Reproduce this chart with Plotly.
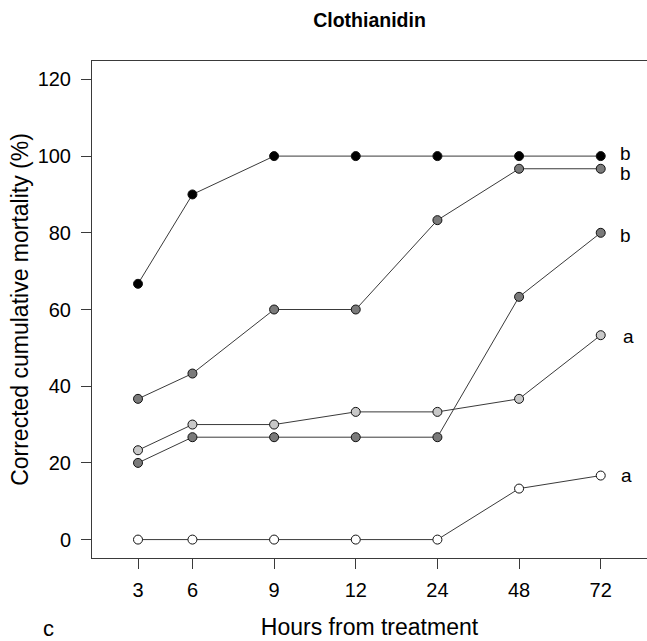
import numpy as np
import plotly.graph_objects as go

# Sampling times (hours after treatment) shown as tick labels
hours = ["3", "6", "9", "12", "24", "48", "72"]

# Corrected cumulative mortality (%) per treatment group
mort_black = [66.7, 90.0, 100.0, 100.0, 100.0, 100.0, 100.0]
mort_dark1 = [36.7, 43.3, 60.0, 60.0, 83.3, 96.7, 96.7]
mort_dark2 = [20.0, 26.7, 26.7, 26.7, 26.7, 63.3, 80.0]
mort_light = [23.3, 30.0, 30.0, 33.3, 33.3, 36.7, 53.3]
mort_white = [0.0, 0.0, 0.0, 0.0, 0.0, 13.3, 16.7]

# Significance letters at 72 h
letters = ["b", "b", "b", "a", "a"]

# Horizontal slots: first step is shorter than the rest
gaps = [0, 2, 3, 3, 3, 3, 3]
xslot = np.cumsum(gaps).tolist()

series = [mort_black, mort_dark1, mort_dark2, mort_light, mort_white]
fills = ["#000000", "#7a7a7a", "#7a7a7a", "#c8c8c8", "#ffffff"]
# per-letter nudges (x px, y px)
nudges = [(0, 3), (0, -5), (0, -3), (3, -1), (1, 0)]

FONT = "Liberation Sans, Arial, sans-serif"
LINE = "#3a3a3a"

W, H = 647, 641
ML, MR, MT, MB = 92, 0, 61, 83

fig = go.Figure()
for ys, fc in zip(series, fills):
    fig.add_trace(go.Scatter(
        x=xslot, y=ys, mode="lines+markers",
        line=dict(color=LINE, width=1),
        marker=dict(size=9, color=fc, line=dict(color="#111111", width=1)),
        showlegend=False, hoverinfo="skip",
    ))

for ys, lt, (dx, dy) in zip(series, letters, nudges):
    fig.add_annotation(
        x=xslot[-1], y=ys[-1], xref="x", yref="y", text=lt,
        showarrow=False, xshift=25 + dx, yshift=dy,
        font=dict(family=FONT, size=19, color="#000000"),
    )

# panel letter, placed in pixel terms
fig.add_annotation(
    x=(48 - ML) / (W - ML - MR), y=(H - MB - 628) / (H - MT - MB),
    xref="paper", yref="paper", text="c", showarrow=False,
    xanchor="center", yanchor="middle",
    font=dict(family=FONT, size=22, color="#000000"),
)

fig.update_layout(
    width=W, height=H,
    margin=dict(l=ML, r=MR, t=MT, b=MB),
    paper_bgcolor="white", plot_bgcolor="white",
    font=dict(family=FONT, color="#000000"),
    title=dict(
        text="<b>Clothianidin</b>", x=(ML + (W - MR)) / 2 / W, xanchor="center",
        y=1 - 20 / H, yanchor="middle",
        font=dict(family=FONT, size=19.5, color="#000000"),
    ),
    xaxis=dict(
        range=[-1.69, 18.70], tickmode="array", tickvals=xslot, ticktext=hours,
        showgrid=False, zeroline=False, showline=True, linecolor=LINE,
        linewidth=1, mirror=True, ticks="outside", ticklen=10, tickcolor=LINE,
        tickfont=dict(family=FONT, size=20), ticklabelstandoff=4,
        title=dict(text="Hours from treatment", font=dict(family=FONT, size=23),
                   standoff=18),
    ),
    yaxis=dict(
        range=[-4.8, 124.8], tickmode="array", tickvals=[0, 20, 40, 60, 80, 100, 120],
        showgrid=False, zeroline=False, showline=True, linecolor=LINE,
        linewidth=1, mirror=False, ticks="outside", ticklen=10, tickcolor=LINE,
        tickfont=dict(family=FONT, size=20), ticklabelstandoff=6,
        title=dict(text="Corrected cumulative mortality (%)",
                   font=dict(family=FONT, size=23), standoff=2),
    ),
)

fig.write_html("out.html")
